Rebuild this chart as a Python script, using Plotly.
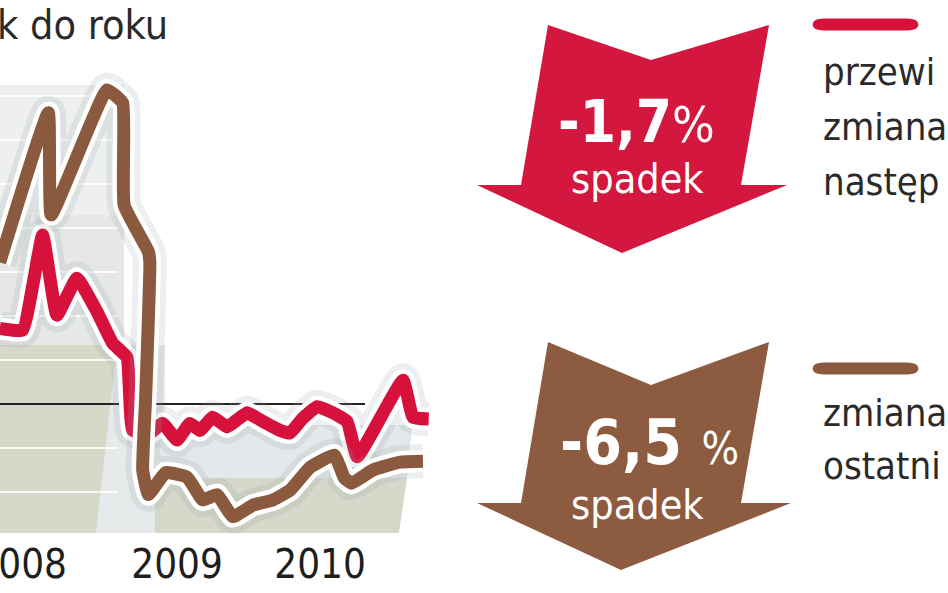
import plotly.graph_objects as go

# ---------------- data ----------------
year_tick_pos = [2007.91, 2009.0, 2010.0]
year_tick_text = ["2008", "2009", "2010"]

# brown series: zmiana w ostatnim okresie, % r/r
brown_x = [2007.76, 2008.10, 2008.12, 2008.51, 2008.62, 2008.63, 2008.80, 2008.81,
           2008.78, 2008.76, 2008.80, 2008.92, 2009.07, 2009.18, 2009.28, 2009.39,
           2009.53, 2009.67, 2009.79, 2009.93, 2010.10, 2010.17, 2010.22, 2010.37,
           2010.56, 2010.72]
brown_y = [16.1, 33.1, 21.5, 35.7, 34.2, 22.6, 17.3, 16.1,
           0.5, -7.5, -10.3, -7.8, -8.3, -10.9, -10.3, -12.8,
           -11.5, -10.9, -9.8, -7.2, -5.8, -8.4, -9.0, -7.5,
           -6.6, -6.5]

# red series: przewidywana zmiana w nastepnym okresie, % r/r
red_x = [2007.76, 2007.92, 2008.06, 2008.16, 2008.30, 2008.44, 2008.55, 2008.65,
         2008.69, 2008.81, 2008.90, 2009.00, 2009.09, 2009.16, 2009.25, 2009.35,
         2009.49, 2009.58, 2009.72, 2009.79, 2009.88, 2009.98, 2010.09, 2010.19,
         2010.26, 2010.58, 2010.65, 2010.76]
red_y = [8.6, 8.4, 19.2, 10.1, 14.3, 10.5, 6.9, 5.3,
         -3.0, -3.3, -2.2, -4.1, -2.2, -3.0, -1.5, -2.6,
         -1.0, -1.8, -3.0, -3.3, -1.6, -0.3, -1.0, -2.0,
         -6.0, 2.7, -1.5, -1.7]

grid_levels = [-10, -5, 5, 10, 15, 20, 25, 30, 35]

red_value_text = "-1,7"
brown_value_text = "-6,5"
drop_word = "spadek"
title_text = "k do roku"
red_legend_lines = ["przewi", "zmiana", "następ"]
brown_legend_lines = ["zmiana", "ostatni"]

# ---------------- styling ----------------
RED = "#d6123c"
BROWN = "#8b5a3e"
RED_ARROW = "#d4173e"
BROWN_ARROW = "#8c5b40"
W, H = 948, 593
PLOT_H = 593
X0 = 2007.762
PX_PER_YEAR = 143.0
Y_ZERO_PX = 404.0
PX_PER_UNIT = 8.8

FONT = "DejaVu Sans Condensed, DejaVu Sans, sans-serif"


def px(x):
    return x / W


def py(y):
    return 1 - y / PLOT_H


def path(points):
    return "M " + " L ".join(f"{px(a):.5f},{py(b):.5f}" for a, b in points) + " Z"


def rounded_bar(x0, x1, yc, h):
    r = h / 2
    return (f"M {px(x0 + r):.5f},{py(yc - r):.5f} L {px(x1 - r):.5f},{py(yc - r):.5f} "
            f"Q {px(x1 + r * 0.9):.5f},{py(yc - r):.5f} {px(x1 + r * 0.9):.5f},{py(yc):.5f} "
            f"Q {px(x1 + r * 0.9):.5f},{py(yc + r):.5f} {px(x1 - r):.5f},{py(yc + r):.5f} "
            f"L {px(x0 + r):.5f},{py(yc + r):.5f} "
            f"Q {px(x0 - r * 0.9):.5f},{py(yc + r):.5f} {px(x0 - r * 0.9):.5f},{py(yc):.5f} "
            f"Q {px(x0 - r * 0.9):.5f},{py(yc - r):.5f} {px(x0 + r):.5f},{py(yc - r):.5f} Z")


fig = go.Figure()

# soft shadow, white halo and coloured line for each series
for xs, ys, col in [(red_x, red_y, RED), (brown_x, brown_y, BROWN)]:
    fig.add_trace(go.Scatter(x=xs, y=ys, mode="lines", hoverinfo="skip",
                             line=dict(color="rgba(150,160,165,0.18)", width=34, shape="spline", smoothing=0.35)))
    fig.add_trace(go.Scatter(x=xs, y=ys, mode="lines", hoverinfo="skip",
                             line=dict(color="white", width=22, shape="spline", smoothing=0.35)))
    fig.add_trace(go.Scatter(x=xs, y=ys, mode="lines", hoverinfo="skip",
                             line=dict(color=col, width=13, shape="spline", smoothing=0.35)))

shapes = []
# background panels
shapes.append(dict(type="path", path=path([(0, 85), (124, 85), (124, 215), (0, 215)]),
                   fillcolor="#eef0ef", line=dict(width=0), layer="below", xref="paper", yref="paper"))
shapes.append(dict(type="path", path=path([(0, 215), (124, 215), (124, 350), (0, 350)]),
                   fillcolor="#e5e8e6", line=dict(width=0), layer="below", xref="paper", yref="paper"))
shapes.append(dict(type="path", path=path([(95, 345), (165, 345), (165, 533), (95, 533)]),
                   fillcolor="#e6eaeb", line=dict(width=0), layer="below", xref="paper", yref="paper"))
shapes.append(dict(type="path", path=path([(0, 345), (117, 345), (96, 533), (0, 533)]),
                   fillcolor="#d6d8c8", line=dict(width=0), layer="below", xref="paper", yref="paper"))
shapes.append(dict(type="path", path=path([(155, 425), (412, 425), (407, 480), (155, 480)]),
                   fillcolor="#e3e8ea", line=dict(width=0), layer="below", xref="paper", yref="paper"))
shapes.append(dict(type="path", path=path([(155, 478), (407, 478), (399, 533), (155, 533)]),
                   fillcolor="#d6d8c9", line=dict(width=0), layer="below", xref="paper", yref="paper"))

# white grid stripes (data coordinates)
x_left_end = X0 + 118 / PX_PER_YEAR
for g in grid_levels:
    shapes.append(dict(type="line", xref="x", yref="y", x0=X0 - 0.1, x1=x_left_end, y0=g, y1=g,
                       line=dict(color="rgba(255,255,255,0.85)", width=2), layer="below"))
# zero line
shapes.append(dict(type="line", xref="x", yref="y", x0=X0 - 0.1, x1=X0 + 365 / PX_PER_YEAR, y0=0, y1=0,
                   line=dict(color="#222222", width=2), layer="below"))

# arrows
shapes.append(dict(type="path", xref="paper", yref="paper", line=dict(width=0), fillcolor=RED_ARROW,
                   path=path([(548, 25), (651, 60), (769, 25), (741, 185), (787, 185),
                              (622, 253), (477, 185), (521, 185)])))
shapes.append(dict(type="path", xref="paper", yref="paper", line=dict(width=0), fillcolor=BROWN_ARROW,
                   path=path([(548, 342), (651, 385), (769, 342), (741, 503), (791, 503),
                              (621, 570), (477, 503), (521, 503)])))
# legend bars
shapes.append(dict(type="path", xref="paper", yref="paper", line=dict(width=0), fillcolor=RED,
                   path=rounded_bar(818, 913, 24.5, 12)))
shapes.append(dict(type="path", xref="paper", yref="paper", line=dict(width=0), fillcolor=BROWN,
                   path=rounded_bar(818, 913, 368.5, 12)))

annotations = []
annotations.append(dict(text=title_text, x=px(-5), y=py(25), xref="paper", yref="paper",
                        xanchor="left", yanchor="middle", showarrow=False,
                        font=dict(family=FONT, size=41, color="#2a2a2a")))

for i, t in enumerate(red_legend_lines):
    annotations.append(dict(text=t, x=px(821), y=py(72 + i * 55), xref="paper", yref="paper",
                            xanchor="left", yanchor="middle", showarrow=False,
                            font=dict(family=FONT, size=38, color="#2a2a2a")))
for i, t in enumerate(brown_legend_lines):
    annotations.append(dict(text=t, x=px(821), y=py(413 + i * 53), xref="paper", yref="paper",
                            xanchor="left", yanchor="middle", showarrow=False,
                            font=dict(family=FONT, size=38, color="#2a2a2a")))

# arrow texts
annotations.append(dict(text=f"<b>{red_value_text}</b><span style='font-size:50px'>%</span>",
                        x=px(636), y=py(122), xref="paper", yref="paper", showarrow=False,
                        xanchor="center", yanchor="middle",
                        font=dict(family=FONT, size=58, color="white")))
annotations.append(dict(text=drop_word, x=px(637), y=py(179), xref="paper", yref="paper", showarrow=False,
                        xanchor="center", yanchor="middle", font=dict(family=FONT, size=41, color="white")))
annotations.append(dict(text=f"<b>{brown_value_text} </b><span style='font-size:44px'>%</span>",
                        x=px(649), y=py(442), xref="paper", yref="paper", showarrow=False,
                        xanchor="center", yanchor="middle",
                        font=dict(family=FONT, size=62, color="white")))
annotations.append(dict(text=drop_word, x=px(637), y=py(505), xref="paper", yref="paper", showarrow=False,
                        xanchor="center", yanchor="middle", font=dict(family=FONT, size=41, color="white")))

fig.update_layout(
    width=W, height=H,
    margin=dict(l=0, r=0, t=0, b=H - PLOT_H, autoexpand=False),
    paper_bgcolor="white", plot_bgcolor="rgba(0,0,0,0)",
    showlegend=False,
    shapes=shapes, annotations=annotations,
    xaxis=dict(range=[X0, X0 + W / PX_PER_YEAR], showgrid=False, zeroline=False, showline=False,
               tickmode="array", tickvals=year_tick_pos, ticktext=year_tick_text, ticks="",
               ticklabelposition="inside",
               tickfont=dict(family=FONT, size=40, color="#1e1e1e"), ticklabelstandoff=4,
               ticklabeloverflow="allow", automargin=False),
    yaxis=dict(range=[(Y_ZERO_PX - PLOT_H) / PX_PER_UNIT, Y_ZERO_PX / PX_PER_UNIT],
               showgrid=False, zeroline=False, showline=False, showticklabels=False,
               automargin=False),
)

fig.write_html("out.html", config={"displayModeBar": False},
               post_script="document.body.style.margin='0';")
